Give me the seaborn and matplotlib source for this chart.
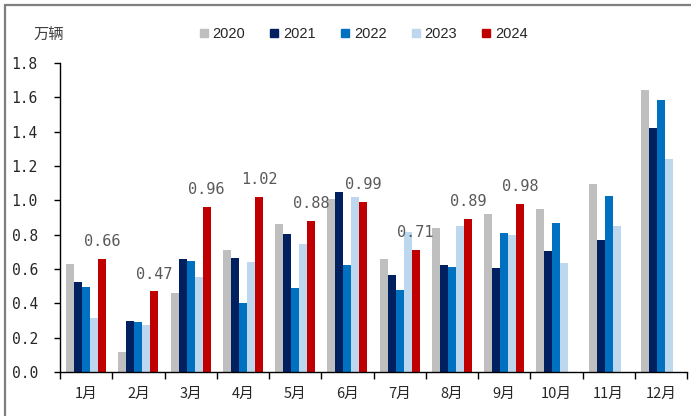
import matplotlib
matplotlib.use("Agg")
import matplotlib.pyplot as plt
from matplotlib.lines import Line2D
from matplotlib.ticker import FixedLocator
import numpy as np
import pandas as pd
import seaborn as sns

# 月度销量(万辆)
months = ["1月", "2月", "3月", "4月", "5月", "6月", "7月", "8月", "9月", "10月", "11月", "12月"]
years = ["2020", "2021", "2022", "2023", "2024"]
v2020 = [0.63, 0.115, 0.46, 0.71, 0.865, 1.01, 0.66, 0.84, 0.92, 0.95, 1.095, 1.645]
v2021 = [0.525, 0.297, 0.66, 0.665, 0.805, 1.047, 0.567, 0.625, 0.606, 0.705, 0.77, 1.423]
v2022 = [0.493, 0.291, 0.647, 0.40, 0.491, 0.621, 0.478, 0.61, 0.808, 0.866, 1.027, 1.586]
v2023 = [0.315, 0.276, 0.553, 0.641, 0.746, 1.019, 0.817, 0.85, 0.798, 0.635, 0.85, 1.239]
v2024 = [0.66, 0.47, 0.96, 1.02, 0.88, 0.99, 0.71, 0.89, 0.98, np.nan, np.nan, np.nan]

colors = ["#BFBFBF", "#002060", "#0070C0", "#BDD7EE", "#C00000"]

df = pd.concat(
    [pd.DataFrame({"month": months, "year": y, "value": v})
     for y, v in zip(years, [v2020, v2021, v2022, v2023, v2024])],
    ignore_index=True,
)

sns.set_theme(style="white")
plt.rcParams["font.family"] = ["Noto Sans CJK SC", "DejaVu Sans"]

fig = plt.figure(figsize=(6.91, 4.16), dpi=100)
ax = fig.add_axes([60 / 691, 1 - 372 / 416, 627 / 691, 309 / 416])

sns.barplot(data=df, x="month", y="value", hue="year", order=months, hue_order=years,
            palette=colors, saturation=1, width=0.77, gap=0, linewidth=0,
            legend=False, ax=ax)

ax.set_xlim(-0.5, len(months) - 0.5)
ax.set_ylim(0, 1.8)
ax.set_yticks(np.arange(0, 1.81, 0.2))
ax.set_yticklabels([f"{t:.1f}" for t in np.arange(0, 1.81, 0.2)],
                   family="DejaVu Sans Mono", fontsize=10.5, color="#262626")
ax.set_xlabel("")
ax.set_ylabel("")
for s in ["top", "right"]:
    ax.spines[s].set_visible(False)
for s in ["left", "bottom"]:
    ax.spines[s].set_color("black")
    ax.spines[s].set_linewidth(1.0)

ax.tick_params(axis="y", direction="out", length=4, width=1, color="black", pad=12, left=True)
ax.tick_params(axis="x", which="major", length=0, pad=11, labelsize=10.5, colors="#262626")
ax.xaxis.set_minor_locator(FixedLocator(np.arange(-0.5, len(months), 1.0)))
ax.tick_params(axis="x", which="minor", direction="out", length=5, width=1, color="black", bottom=True)

# 2024 value labels above the red bars
for bar, val in zip(ax.containers[-1], [v for v in v2024 if not np.isnan(v)]):
    ax.annotate(f"{val:.2f}", (bar.get_x() + bar.get_width() / 2, bar.get_height()),
                xytext=(0, 7), textcoords="offset points", ha="center", va="bottom",
                family="DejaVu Sans Mono", fontsize=11, color="#595959")

handles = [Line2D([], [], marker="s", linestyle="", markersize=6, color=c) for c in colors]
fig.legend(handles, years, loc="center", bbox_to_anchor=(362 / 691, 1 - 34 / 416),
           ncol=5, frameon=False, prop={"family": "Liberation Sans", "size": 10.5},
           handletextpad=0.1, columnspacing=1.5, handlelength=1.0)

fig.text(33 / 691, 1 - 35 / 416, "万辆", ha="left", va="center", fontsize=11, color="#404040")

# outer frame (left and top edges visible in the reference)
fig.add_artist(Line2D([5 / 691, 5 / 691], [0, 1 - 5 / 416], color="#7F7F7F", linewidth=1.6))
fig.add_artist(Line2D([5 / 691, 1], [1 - 5 / 416, 1 - 5 / 416], color="#7F7F7F", linewidth=1.6))

fig.savefig("out.png", dpi=100)
